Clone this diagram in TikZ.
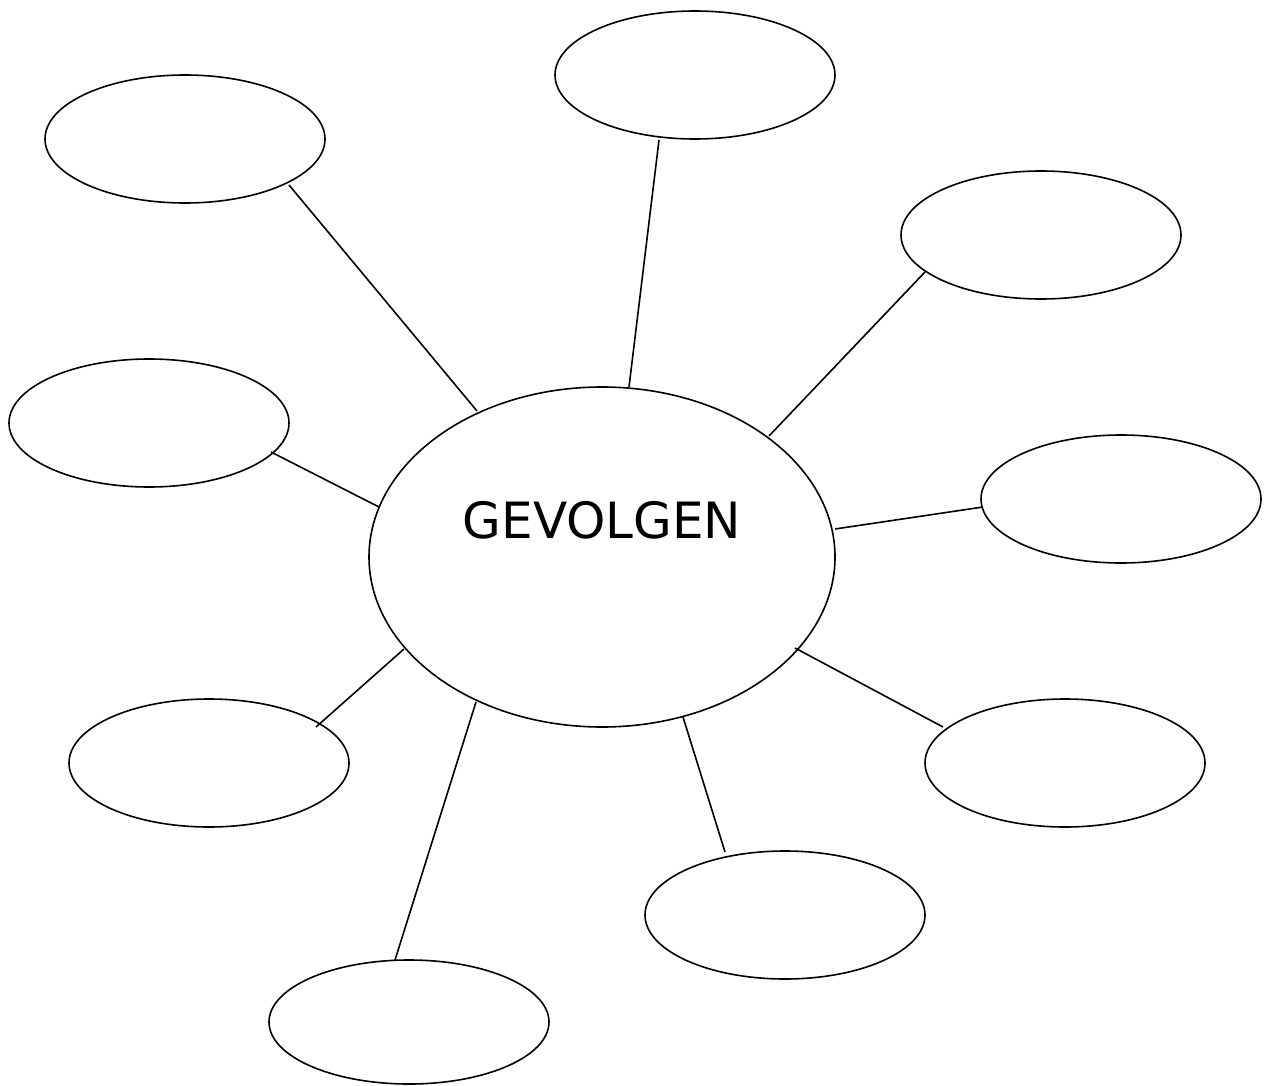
\documentclass[tikz,border=0pt]{standalone}
\usepackage{fontspec}
\setmainfont{DejaVu Sans}
\usetikzlibrary{shapes.geometric}
\begin{document}
\begin{tikzpicture}[x=1pt,y=-1pt,
  bubble/.style={draw=black,line width=1.6pt,ellipse,inner sep=0pt,minimum width=280pt,minimum height=128pt},
  link/.style={draw=black,line width=1.6pt}]
\useasboundingbox (0,0) rectangle (1266,1086);
\node[bubble,minimum width=466pt,minimum height=340pt] (c) at (602,557) {};
\node[font=\fontsize{50}{58}\selectfont] (t) at (602,520) {GEVOLGEN};
\node[bubble] (n1) at (695,75) {};
\node[bubble] (n2) at (185,139) {};
\node[bubble] (n3) at (1041,235) {};
\node[bubble] (n4) at (149,423) {};
\node[bubble] (n5) at (1121,499) {};
\node[bubble] (n6) at (209,763) {};
\node[bubble] (n7) at (1065,763) {};
\node[bubble] (n8) at (785,915) {};
\node[bubble,minimum height=124pt] (n9) at (409,1022) {};
\coordinate (a1) at (289,185); \coordinate (b1) at (477,411);
\coordinate (a2) at (659,140); \coordinate (b2) at (629,387);
\coordinate (a3) at (925,272); \coordinate (b3) at (769,436);
\coordinate (a4) at (271,452); \coordinate (b4) at (379,507);
\coordinate (a5) at (983,507); \coordinate (b5) at (835,529);
\coordinate (a6) at (316,727); \coordinate (b6) at (404,649);
\coordinate (a7) at (943,727); \coordinate (b7) at (795,648);
\coordinate (a8) at (395,960); \coordinate (b8) at (476,702);
\coordinate (a9) at (725,852); \coordinate (b9) at (683,717);
\foreach \i in {1,...,9} {\draw[link] (a\i) -- (b\i);}
\end{tikzpicture}
\end{document}
